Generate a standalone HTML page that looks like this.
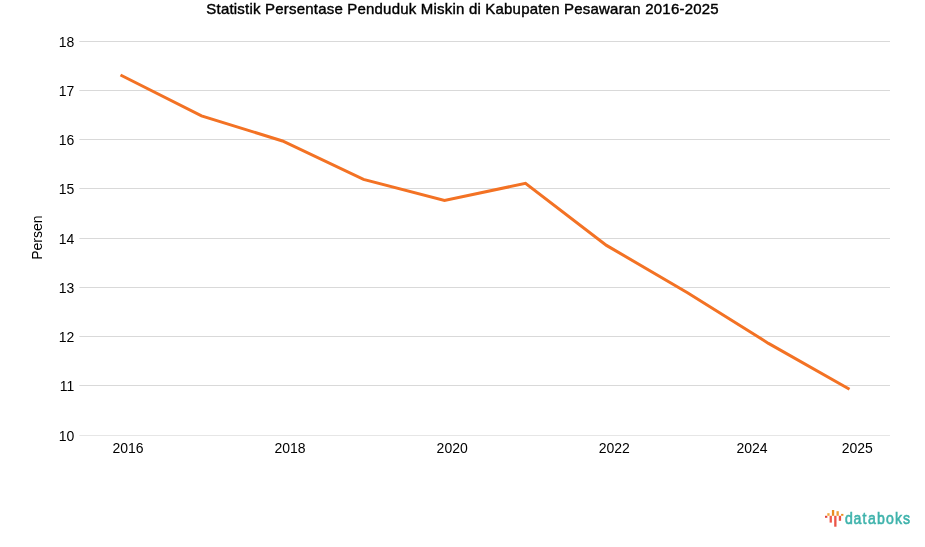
<!DOCTYPE html>
<html><head><meta charset="utf-8"><title>Statistik Persentase Penduduk Miskin di Kabupaten Pesawaran 2016-2025</title>
<style>
html,body{margin:0;padding:0;background:#fff;}
body{width:925px;height:547px;overflow:hidden;font-family:"Liberation Sans",sans-serif;}
svg{display:block}
.ax{font-family:"Liberation Sans",sans-serif;font-size:14px;fill:#000;}
.title{font-family:"Liberation Sans",sans-serif;font-size:15px;fill:#000;stroke:#000;stroke-width:0.4px;letter-spacing:0.2px}
.logo{font-family:"Liberation Sans",sans-serif;font-size:16.4px;fill:#3fb3ac;stroke:#3fb3ac;stroke-width:0.62px}
</style></head><body>
<svg width="925" height="547" viewBox="0 0 925 547">
<rect width="925" height="547" fill="#fff"/>
<text x="462.6" y="14" text-anchor="middle" class="title">Statistik Persentase Penduduk Miskin di Kabupaten Pesawaran 2016-2025</text>
<g>
<rect x="79.4" y="41.0" width="810.6" height="1" fill="#d9d9d9"/>
<text x="74.4" y="46.5" text-anchor="end" class="ax">18</text>
<rect x="79.4" y="90.0" width="810.6" height="1" fill="#d9d9d9"/>
<text x="74.4" y="95.5" text-anchor="end" class="ax">17</text>
<rect x="79.4" y="139.0" width="810.6" height="1" fill="#d9d9d9"/>
<text x="74.4" y="144.5" text-anchor="end" class="ax">16</text>
<rect x="79.4" y="188.0" width="810.6" height="1" fill="#d9d9d9"/>
<text x="74.4" y="193.5" text-anchor="end" class="ax">15</text>
<rect x="79.4" y="238.0" width="810.6" height="1" fill="#d9d9d9"/>
<text x="74.4" y="243.5" text-anchor="end" class="ax">14</text>
<rect x="79.4" y="287.0" width="810.6" height="1" fill="#d9d9d9"/>
<text x="74.4" y="292.5" text-anchor="end" class="ax">13</text>
<rect x="79.4" y="336.0" width="810.6" height="1" fill="#d9d9d9"/>
<text x="74.4" y="341.5" text-anchor="end" class="ax">12</text>
<rect x="79.4" y="385.0" width="810.6" height="1" fill="#d9d9d9"/>
<text x="74.4" y="390.5" text-anchor="end" class="ax">11</text>
<rect x="79.4" y="435.0" width="810.6" height="1" fill="#e6e6e6"/>
<text x="74.4" y="440.5" text-anchor="end" class="ax">10</text>
</g>
<text x="128.1" y="453" text-anchor="middle" class="ax">2016</text>
<text x="290" y="453" text-anchor="middle" class="ax">2018</text>
<text x="452.2" y="453" text-anchor="middle" class="ax">2020</text>
<text x="614.3" y="453" text-anchor="middle" class="ax">2022</text>
<text x="752.1" y="453" text-anchor="middle" class="ax">2024</text>
<text x="857.3" y="453" text-anchor="middle" class="ax">2025</text>

<text transform="translate(41.9,237.6) rotate(-90)" text-anchor="middle" class="ax">Persen</text>
<path d="M120.50,74.98 L201.50,115.86 L282.50,140.98 L363.50,179.39 L444.50,200.57 L525.50,183.33 L606.50,245.39 L687.50,292.67 L768.50,343.40 L849.50,389.20" fill="none" stroke="#f37224" stroke-width="3" stroke-linejoin="miter" stroke-linecap="butt"/>
<g>
<rect x="825.00" y="515.8" width="2.3" height="2.00" fill="#e2423c"/>
<rect x="829.60" y="515.8" width="2.3" height="6.80" fill="#ee5a4b"/>
<rect x="834.20" y="515.8" width="2.3" height="10.90" fill="#eb5547"/>
<rect x="838.80" y="515.8" width="2.3" height="5.00" fill="#ea5248"/>
<rect x="827.30" y="513.2" width="2.3" height="2.60" fill="#f5aa3c"/>
<rect x="831.90" y="510.0" width="2.3" height="5.80" fill="#e88c22"/>
<rect x="836.50" y="511.2" width="2.3" height="4.60" fill="#f09b32"/>
<rect x="841.10" y="513.9" width="2.3" height="1.90" fill="#ea8f1e"/>
</g>
<text transform="translate(844,0) scale(0.86,1)" x="5.58 15.52 23.72 32.44 42.79 53.26 63.43 72.85" y="523.6" text-anchor="middle" class="logo">databoks</text>
</svg>
</body></html>
